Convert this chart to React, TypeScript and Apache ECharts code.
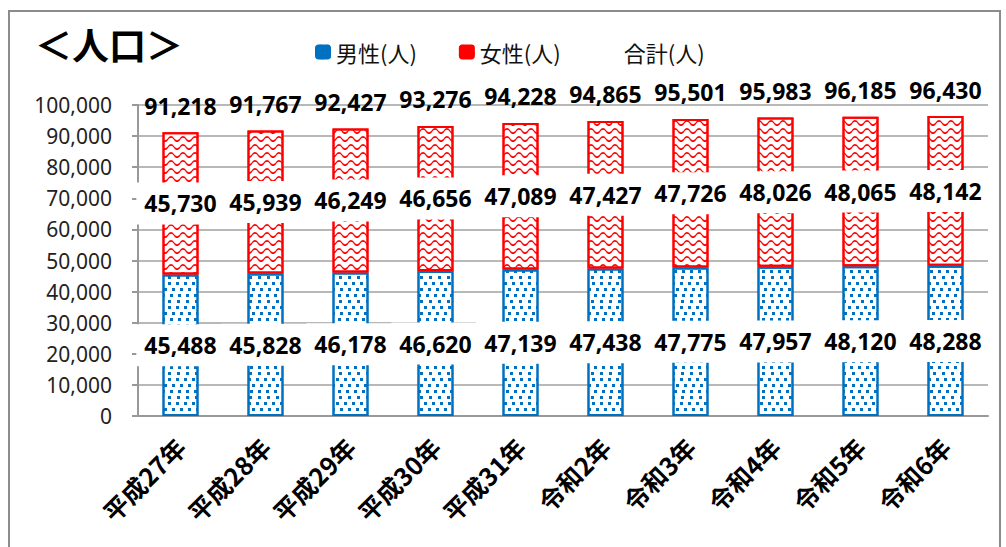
import React, { useEffect, useRef } from "react";
import * as echarts from "echarts";

const categories = ["平成27年", "平成28年", "平成29年", "平成30年", "平成31年", "令和2年", "令和3年", "令和4年", "令和5年", "令和6年"];
const male = [45488, 45828, 46178, 46620, 47139, 47438, 47775, 47957, 48120, 48288];
const female = [45730, 45939, 46249, 46656, 47089, 47427, 47726, 48026, 48065, 48142];
const total = [91218, 91767, 92427, 93276, 94228, 94865, 95501, 95983, 96185, 96430];

const fmt = (v: number) => Number(v).toLocaleString("en-US");
const FONT = "'Noto Sans', 'Noto Sans CJK JP', sans-serif";
const CJK = "'Noto Sans CJK JP', sans-serif";
const BLUE = "#0070c0";
const RED = "#ff0000";

const wave = "path://M0,3 C3,0 7,0 10,3 C13,6 17,6 20,3 L20,5 C17,8 13,8 10,5 C7,2 3,2 0,5 Z";

export default function App() {
  const ref = useRef<HTMLDivElement>(null);
  useEffect(() => {
    if (!ref.current) return;
    const chart = echarts.init(ref.current, null, { renderer: "svg" });
    const labelBox = {
      show: true,
      position: "inside" as const,
      color: "#000",
      fontWeight: "bold" as const,
      fontSize: 23,
      fontFamily: FONT,
      backgroundColor: "#fff",
      padding: [10, 8, 9, 8],
      formatter: (p: any) => fmt(p.value),
    };
    chart.setOption({
      animation: false,
      textStyle: { fontFamily: FONT },
      title: {
        text: "＜人口＞",
        left: 30,
        top: 20,
        textStyle: { fontSize: 37, fontWeight: "bold", color: "#000", fontFamily: CJK },
      },
      legend: {
        left: 310,
        top: 36,
        itemWidth: 16,
        itemHeight: 15,
        itemGap: 42,
        textStyle: { fontSize: 22, color: "#111", fontFamily: CJK },
        data: [
          { name: "男性(人)", itemStyle: { color: BLUE, borderWidth: 0 } },
          { name: "女性(人)", itemStyle: { color: RED, borderWidth: 0 } },
          { name: "合計(人)", icon: "none" },
        ],
      },
      graphic: [
        {
          type: "rect",
          shape: { x: 9, y: 11, width: 991, height: 560 },
          style: { fill: "none", stroke: "#8c8c8c", lineWidth: 2 },
          silent: true,
        },
      ],
      grid: { left: 138, right: 18, top: 105, bottom: 131 },
      xAxis: {
        type: "category",
        data: categories,
        axisLine: { lineStyle: { color: "#999", width: 2 } },
        axisTick: { length: 7, lineStyle: { color: "#999", width: 2 } },
        axisLabel: {
          rotate: 45,
          margin: 26,
          fontSize: 25,
          fontWeight: "bold",
          color: "#000",
          fontFamily: CJK,
        },
      },
      yAxis: {
        type: "value",
        min: 0,
        max: 100000,
        interval: 10000,
        axisLine: { show: true, lineStyle: { color: "#999", width: 2 } },
        axisTick: { show: true, length: 6, lineStyle: { color: "#999", width: 2 } },
        splitLine: { lineStyle: { color: "#a0a0a0", width: 1.5 } },
        axisLabel: { fontSize: 21, color: "#222", margin: 26, formatter: (v: number) => fmt(v) },
      },
      series: [
        {
          name: "男性(人)",
          type: "bar",
          stack: "pop",
          barWidth: 36,
          data: male,
          itemStyle: {
            color: "#fff",
            borderColor: BLUE,
            borderWidth: 2,
            decal: {
              symbol: "rect",
              symbolSize: 1,
              color: BLUE,
              backgroundColor: "#fff",
              dashArrayX: [[3, 5], [0, 4, 3, 1], [0, 2, 3, 3], [0, 6, 3, 0]],
              dashArrayY: [3, 3],
            },
          },
          label: labelBox,
        },
        {
          name: "女性(人)",
          type: "bar",
          stack: "pop",
          barWidth: 36,
          data: female,
          itemStyle: {
            color: "#fff",
            borderColor: RED,
            borderWidth: 2,
            decal: {
              symbol: wave,
              symbolSize: 1,
              symbolKeepAspect: false,
              color: RED,
              backgroundColor: "#fff",
              dashArrayX: [12, 0],
              dashArrayY: [6, 2],
            },
          },
          label: labelBox,
        },
        {
          name: "合計(人)",
          type: "line",
          data: total,
          symbol: "circle",
          symbolSize: 0,
          showSymbol: true,
          itemStyle: { color: "transparent" },
          lineStyle: { width: 0, opacity: 0 },
          label: {
            show: true,
            position: "top",
            distance: 15,
            color: "#000",
            fontWeight: "bold",
            fontSize: 23,
            fontFamily: FONT,
            formatter: (p: any) => fmt(p.value),
          },
        },
      ],
    });
    return () => chart.dispose();
  }, []);
  return <div ref={ref} style={{ position: "absolute", left: 0, top: 0, width: 1006, height: 547, background: "#fff" }} />;
}
